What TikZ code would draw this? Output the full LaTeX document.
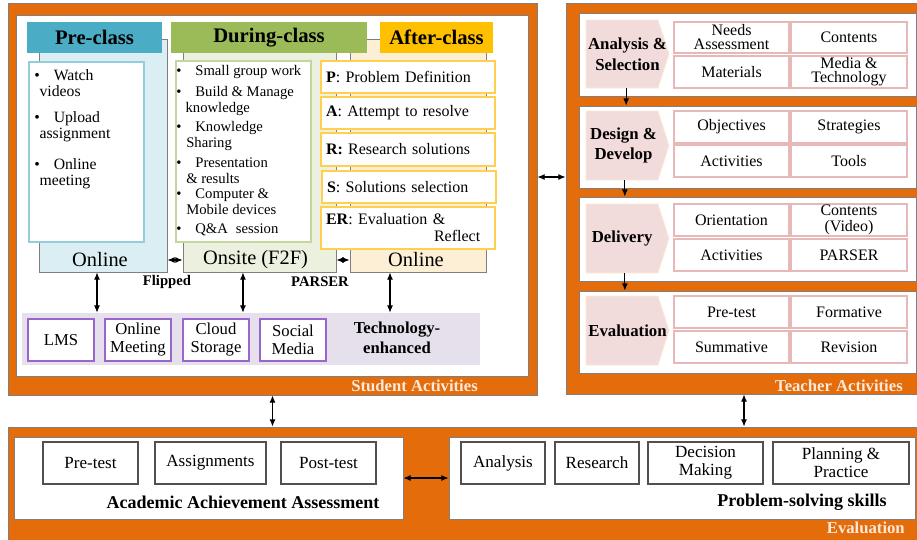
\documentclass[tikz,border=0pt]{standalone}
\usepackage{fontspec}
\setmainfont{Liberation Serif}
\usetikzlibrary{arrows.meta}
\definecolor{org}{HTML}{E46C0A}
\definecolor{edge}{HTML}{7F7F7F}
\definecolor{tealh}{HTML}{4BACC6}
\definecolor{prebg}{HTML}{DAEEF3}
\definecolor{prein}{HTML}{92CDDC}
\definecolor{greenh}{HTML}{9BBB59}
\definecolor{durbg}{HTML}{EBF1DE}
\definecolor{durin}{HTML}{C3D69B}
\definecolor{goldh}{HTML}{FFC000}
\definecolor{aftbg}{HTML}{FDEFD5}
\definecolor{pboxc}{HTML}{FFD04F}
\definecolor{lav}{HTML}{E5E0EC}
\definecolor{tboxc}{HTML}{9966CC}
\definecolor{pentc}{HTML}{F2DCDB}
\definecolor{pentb}{HTML}{FBEBD5}
\definecolor{gridc}{HTML}{E6B9B8}
\definecolor{labc}{HTML}{FCE9DC}
\definecolor{bboxc}{HTML}{505050}
\newcommand{\mybox}[7]{%
  \pgfmathsetmacro\myW{(#4-#2)*0.75}%
  \pgfmathsetmacro\myH{(#5-#3)*0.75}%
  \node[minimum width=\myW pt, minimum height=\myH pt, inner sep=0pt, #6] (#1) at ({(#2+#4)/2},{(#3+#5)/2}) {#7};}
\newcommand{\mypent}[5]{%
  \filldraw[fill=pentc, draw=pentb, line width=0.6pt] (586,#2) -- (658,#2) -- (669,{(#2+#3)/2}) -- (658,#3) -- (586,#3) -- cycle;
  \mybox{#1}{586}{#2}{669}{#3}{ptext, xshift=#5}{#4}}
\tikzset{
  outer/.style={fill=org, draw=edge, line width=0.6pt},
  panel/.style={fill=white, draw=edge, line width=0.6pt},
  hdr/.style={font=\fontsize{15.5}{18}\selectfont\bfseries},
  lab/.style={anchor=east, inner sep=0pt, text=labc, font=\fontsize{12.5}{14}\selectfont\bfseries},
  lbl/.style={inner sep=0pt, font=\fontsize{15.3}{17}\selectfont},
  pbul/.style={anchor=west, align=left, inner sep=0pt, font=\fontsize{11.8}{12}\selectfont},
  dbul/.style={anchor=west, align=left, inner sep=0pt, font=\fontsize{11}{12}\selectfont},
  pbox/.style={fill=white, draw=pboxc, line width=0.9pt, text width=123pt, align=left, inner xsep=3.75pt, font=\fontsize{12}{12.75}\selectfont},
  tbox/.style={fill=white, draw=tboxc, line width=1pt, align=center, font=\fontsize{12.5}{13.5}\selectfont},
  ptext/.style={align=center, font=\fontsize{12.6}{15.5}\selectfont\bfseries},
  gbox/.style={fill=white, draw=gridc, line width=0.9pt, align=center, font=\fontsize{12}{10.5}\selectfont},
  bbox/.style={fill=white, draw=bboxc, line width=0.8pt, align=center, font=\fontsize{12.8}{13.5}\selectfont},
  btitle/.style={inner sep=0pt, font=\fontsize{13.5}{15}\selectfont\bfseries},
  smallb/.style={inner sep=0pt, font=\fontsize{11}{13}\selectfont\bfseries},
  dbl/.style={{Latex[length=5.5pt,width=4.5pt]}-{Latex[length=5.5pt,width=4.5pt]}, line width=0.8pt},
  arr/.style={-{Latex[length=5.5pt,width=4.5pt]}, line width=0.8pt}
}
\begin{document}
\begin{tikzpicture}[x=0.75pt,y=-0.75pt]
\useasboundingbox (0,0) rectangle (917,539);
\fill[white] (0,0) rectangle (917,539);

% ---------------- Student activities ----------------
\mybox{stu}{8}{3}{537}{395}{outer}{}
\mybox{stuIn}{16}{15}{528}{376}{panel}{}
\node[lab] (stuLab) at (478,386) {Student Activities};

% backgrounds
\mybox{preBg}{39}{39}{167}{272}{fill=prebg, draw=edge, line width=0.6pt}{}
\mybox{durBg}{183}{39}{336}{272}{fill=durbg, draw=edge, line width=0.6pt}{}
\mybox{aftBg}{350}{39}{486}{272}{fill=aftbg, draw=edge, line width=0.6pt}{}
% headers
\mybox{preHd}{27}{22}{162}{53}{fill=tealh, hdr}{Pre-class}
\mybox{durHd}{171}{22}{367}{53}{fill=greenh, hdr}{During-class}
\mybox{aftHd}{380}{22}{493}{53}{fill=goldh, hdr}{After-class}
% inner boxes
\mybox{preIn}{29}{62}{144}{242}{fill=white, draw=prein, line width=0.9pt}{}
\mybox{durIn}{176}{61}{311}{242}{fill=white, draw=durin, line width=0.9pt}{}

% pre-class bullets
\node[pbul] (pb1) at (34,83.5) {\textbullet\hspace{10.5pt}Watch\\\hspace*{4pt}videos};
\node[pbul] (pb2) at (34,126.5) {\textbullet\hspace{10.5pt}Upload\\\hspace*{4pt}assignment};
\node[pbul] (pb3) at (34,173.5) {\textbullet\hspace{10.5pt}Online\\\hspace*{4pt}meeting};

% during-class bullets
\node[dbul] (db1) at (176,72) {\textbullet\hspace{10.5pt}Small group work};
\node[dbul] (db2) at (176,101) {\textbullet\hspace{10.5pt}Build \& Manage\\\hspace*{7pt}knowledge};
\node[dbul] (db3) at (176,136) {\textbullet\hspace{10.5pt}Knowledge\\\hspace*{7.5pt}Sharing};
\node[dbul] (db4) at (176,171) {\textbullet\hspace{10.5pt}Presentation\\\hspace*{7.5pt}\& results};
\node[dbul] (db5) at (176,202) {\textbullet\hspace{10.5pt}Computer \&\\\hspace*{7.5pt}Mobile devices};
\node[dbul] (db6) at (176,230) {\textbullet\hspace{10.5pt}Q\&A\hspace{6pt}session};

% PARSER boxes
\mybox{pP}{321}{61}{495}{93}{pbox}{\textbf{P}: Problem Definition}
\mybox{pA}{321}{97}{495}{129}{pbox}{\textbf{A}: Attempt to resolve}
\mybox{pR}{321}{133}{495}{166}{pbox}{\textbf{R:} Research solutions}
\mybox{pS}{322}{171}{496}{203}{pbox}{\textbf{S}: Solutions selection}
\mybox{pE}{321}{207}{495}{249}{pbox}{\textbf{ER}: Evaluation \&\\\hspace*{81pt}Reflect}

% mode labels
\node[lbl] (preOn) at (100,260) {Online};
\node[lbl] (durOn) at (255.5,260) {Onsite (F2F)};
\node[lbl] (aftOn) at (416,260) {Online};
\node[smallb] (flip) at (167,282) {Flipped};
\node[smallb] (pars) at (320,282) {PARSER};

% technology
\mybox{tech}{22}{313}{480}{365}{fill=lav}{}
\mybox{lms}{28}{319}{94}{361}{tbox}{LMS}
\mybox{omt}{105}{319}{171}{361}{tbox}{Online\\Meeting}
\mybox{cls}{183}{319}{249}{361}{tbox}{Cloud\\Storage}
\mybox{smd}{260}{319}{326}{361}{tbox}{Social\\Media}
\node[align=center, inner sep=0pt, font=\fontsize{12.5}{15}\selectfont\bfseries] (ten) at (397,338) {Technology-\\enhanced};

% student arrows
\draw[dbl] (preBg.east |- preOn) -- (durBg.west |- preOn);
\draw[dbl] (durBg.east |- durOn) -- (aftBg.west |- durOn);
\draw[dbl] ([xshift=-4.5pt]preBg.south) -- ([xshift=-4.5pt]preBg.south |- tech.north);
\draw[dbl] ([xshift=-12.4pt]durBg.south) -- ([xshift=-12.4pt]durBg.south |- tech.north);
\draw[dbl] ([xshift=-21pt]aftBg.south) -- ([xshift=-21pt]aftBg.south |- tech.north);

% ---------------- Teacher activities ----------------
\mybox{tea}{566}{3}{922}{394}{outer}{}
\node[lab] (teaLab) at (903,386) {Teacher Activities};
\mybox{anaPn}{579}{13}{916}{96}{panel}{}
\mybox{desPn}{579}{106}{916}{188}{panel}{}
\mybox{delPn}{579}{197}{916}{281}{panel}{}
\mybox{evaPn}{579}{291}{916}{373}{panel}{}

\mypent{anaP}{20}{88}{Analysis \&\\Selection}{0pt}
\mypent{desP}{111}{180}{Design \&\\Develop}{-3pt}
\mypent{delP}{204}{273}{Delivery}{-4pt}
\mypent{evaP}{296}{365}{Evaluation}{0pt}

\mybox{g11}{674}{22}{789}{53}{gbox}{Needs\\Assessment}
\mybox{g12}{791}{22}{907}{53}{gbox}{Contents}
\mybox{g13}{674}{56}{789}{88}{gbox}{Materials}
\mybox{g14}{791}{56}{907}{88}{gbox}{Media \&\\Technology}

\mybox{g21}{674}{111}{789}{143}{gbox}{Objectives}
\mybox{g22}{791}{111}{907}{143}{gbox}{Strategies}
\mybox{g23}{674}{145}{789}{177}{gbox}{Activities}
\mybox{g24}{791}{145}{907}{177}{gbox}{Tools}

\mybox{g31}{674}{204}{789}{236}{gbox}{Orientation}
\mybox{g32}{791}{204}{907}{236}{gbox, font=\fontsize{12}{11.5}\selectfont}{Contents\\(Video)}
\mybox{g33}{674}{239}{789}{271}{gbox}{Activities}
\mybox{g34}{791}{239}{907}{271}{gbox}{PARSER}

\mybox{g41}{674}{296}{789}{328}{gbox}{Pre-test}
\mybox{g42}{791}{296}{907}{328}{gbox}{Formative}
\mybox{g43}{674}{331}{789}{363}{gbox}{Summative}
\mybox{g44}{791}{331}{907}{363}{gbox}{Revision}

\draw[arr] ([xshift=-1pt]anaP.south) -- ([xshift=-1pt]anaP.south |- desPn.north);
\draw[arr] ([xshift=1pt]desP.south) -- ([xshift=1pt]desP.south |- delPn.north);
\draw[arr] ([xshift=2pt]delP.south) -- ([xshift=2pt]delP.south |- evaPn.north);

% ---------------- Evaluation ----------------
\mybox{ev}{8}{427}{922}{545}{outer}{}
\node[lab] (evLab) at (905,528) {Evaluation};
\mybox{aaa}{14}{437}{403}{519}{panel}{}
\mybox{ps}{449}{437}{915}{519}{panel}{}
\mybox{b1}{43}{442}{138}{484}{bbox}{Pre-test}
\mybox{b2}{155}{442}{266}{484}{bbox}{Assignments}
\mybox{b3}{281}{442}{376}{484}{bbox}{Post-test}
\node[btitle] (aaaT) at (243,502) {Academic Achievement Assessment};
\mybox{c1}{461}{442}{545}{484}{bbox}{Analysis}
\mybox{c2}{555}{442}{639}{484}{bbox}{Research}
\mybox{c3}{648}{442}{763}{484}{bbox}{Decision\\Making}
\mybox{c4}{773}{442}{909}{484}{bbox}{Planning \&\\Practice}
\node[btitle] (psT) at (802,502) {Problem-solving skills};

% main arrows
\draw[dbl] ([yshift=16.5pt]stu.east) -- ([yshift=16.5pt]stu.east -| tea.west);
\draw[dbl] (stu.south) -- (stu.south |- ev.north);
\draw[dbl] (tea.south) -- (tea.south |- ev.north);
\draw[dbl] (aaa.east) -- (ps.west);
\end{tikzpicture}
\end{document}
